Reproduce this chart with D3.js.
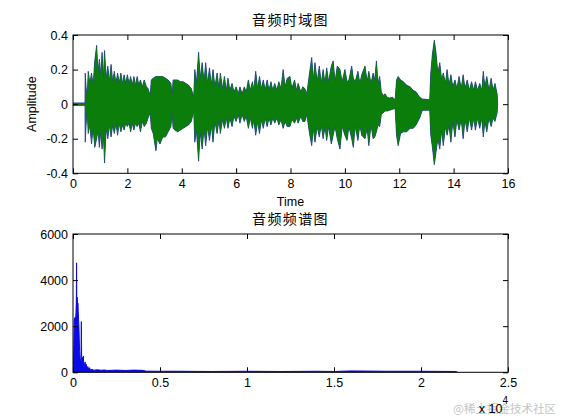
<!DOCTYPE html>
<html><head><meta charset="utf-8">
<script src="https://cdn.jsdelivr.net/npm/d3@7"></script>
<style>body{margin:0;background:#fff}svg{display:block}</style>
</head><body>
<script>
// ---------- data ----------
const timeTicks = [0,2,4,6,8,10,12,14,16];
const ampTicks = [-0.4,-0.2,0,0.2,0.4];
const freqTicks = [0,5000,10000,15000,20000,25000];
const magTicks = [0,2000,4000,6000];
const titleTop = "音频时域图";
const titleBottom = "音频频谱图";

// waveform envelope (seconds, upper, lower)
const envT = [
 0,0.44,0.45,0.48,0.52,0.56,0.62,0.68,0.74,0.80,
 0.87,0.92,0.97,1.02,1.07,1.12,1.16,1.22,1.28,1.34,
 1.40,1.46,1.52,1.58,1.64,1.70,1.76,1.82,1.88,1.94,
 2.00,2.06,2.12,2.18,2.24,2.30,2.36,2.42,2.48,2.55,
 2.62,2.70,2.76,2.84,2.88,2.95,3.05,3.10,3.20,3.30,
 3.40,3.50,3.60,3.65,3.68,3.75,3.85,3.95,4.05,4.15,
 4.25,4.35,4.44,4.48,4.54,4.62,4.68,4.75,4.82,4.88,
 4.95,5.02,5.09,5.15,5.22,5.30,5.37,5.42,5.50,5.57,
 5.64,5.70,5.77,5.85,5.92,6.00,6.08,6.14,6.22,6.30,
 6.37,6.45,6.52,6.60,6.65,6.72,6.79,6.86,6.93,7.00,
 7.07,7.14,7.21,7.28,7.35,7.42,7.50,7.57,7.65,7.73,
 7.80,7.88,7.98,8.05,8.15,8.22,8.28,8.38,8.45,8.53,
 8.60,8.70,8.78,8.84,8.90,8.98,9.06,9.13,9.20,9.27,
 9.33,9.40,9.50,9.57,9.64,9.72,9.82,9.90,10.00,10.08,
 10.15,10.25,10.31,10.38,10.48,10.55,10.62,10.74,10.82,10.88,
 10.96,11.04,11.10,11.16,11.22,11.28,11.34,11.41,11.48,11.55,
 11.65,11.75,11.85,11.90,11.96,12.05,12.15,12.27,12.40,12.51,
 12.62,12.75,12.85,13.12,13.16,13.22,13.29,13.35,13.42,13.49,
 13.56,13.62,13.70,13.76,13.83,13.90,13.97,14.05,14.12,14.20,
 14.28,14.35,14.42,14.50,14.58,14.66,14.74,14.80,14.88,14.96,
 15.04,15.09,15.15,15.22,15.30,15.38,15.45,15.52,15.60,15.62];
const envTop = [
 0.007,0.007,0.18,0.10,0.03,0.19,0.12,0.18,0.11,0.25,
 0.34,0.18,0.26,0.17,0.30,0.15,0.31,0.15,0.22,0.13,
 0.23,0.13,0.19,0.12,0.18,0.12,0.18,0.12,0.17,0.12,
 0.17,0.12,0.16,0.11,0.16,0.11,0.16,0.11,0.14,0.10,
 0.14,0.10,0.09,0.05,0.14,0.15,0.16,0.16,0.16,0.16,
 0.15,0.14,0.12,0.05,0.14,0.14,0.14,0.13,0.13,0.12,
 0.11,0.09,0.04,0.20,0.12,0.30,0.15,0.24,0.13,0.24,
 0.12,0.21,0.11,0.20,0.10,0.18,0.09,0.18,0.09,0.16,
 0.08,0.15,0.08,0.12,0.07,0.10,0.06,0.10,0.06,0.10,
 0.07,0.14,0.08,0.13,0.08,0.19,0.09,0.16,0.09,0.14,
 0.08,0.14,0.08,0.13,0.08,0.12,0.08,0.13,0.09,0.20,
 0.10,0.15,0.16,0.09,0.14,0.08,0.12,0.07,0.10,0.09,
 0.06,0.18,0.27,0.14,0.24,0.13,0.22,0.12,0.20,0.12,
 0.21,0.13,0.22,0.25,0.13,0.22,0.20,0.13,0.20,0.13,
 0.14,0.22,0.15,0.13,0.19,0.12,0.17,0.22,0.13,0.19,
 0.12,0.18,0.14,0.25,0.12,0.16,0.07,0.05,0.06,0.04,
 0.035,0.04,0.025,0.14,0.16,0.14,0.13,0.11,0.10,0.08,
 0.07,0.04,0.03,0.025,0.18,0.29,0.37,0.30,0.18,0.24,
 0.14,0.18,0.12,0.20,0.11,0.17,0.10,0.14,0.09,0.16,
 0.09,0.17,0.09,0.14,0.08,0.13,0.08,0.13,0.08,0.12,
 0.08,0.19,0.10,0.16,0.08,0.15,0.08,0.12,0.06,0];
const envBot = [
 -0.007,-0.007,-0.22,-0.12,-0.03,-0.17,-0.12,-0.23,-0.14,-0.25,
 -0.20,-0.15,-0.25,-0.16,-0.26,-0.18,-0.34,-0.14,-0.20,-0.12,
 -0.19,-0.12,-0.17,-0.11,-0.18,-0.11,-0.16,-0.12,-0.15,-0.11,
 -0.13,-0.11,-0.16,-0.11,-0.15,-0.11,-0.13,-0.11,-0.16,-0.10,
 -0.13,-0.11,-0.08,-0.05,-0.14,-0.17,-0.27,-0.20,-0.23,-0.19,
 -0.19,-0.16,-0.13,-0.05,-0.14,-0.15,-0.16,-0.15,-0.14,-0.13,
 -0.12,-0.10,-0.04,-0.22,-0.15,-0.33,-0.16,-0.26,-0.14,-0.24,
 -0.13,-0.21,-0.12,-0.22,-0.10,-0.17,-0.09,-0.17,-0.09,-0.14,
 -0.08,-0.14,-0.08,-0.13,-0.07,-0.10,-0.06,-0.11,-0.06,-0.10,
 -0.07,-0.14,-0.08,-0.14,-0.09,-0.18,-0.10,-0.17,-0.09,-0.14,
 -0.08,-0.13,-0.08,-0.12,-0.08,-0.11,-0.08,-0.12,-0.09,-0.14,
 -0.10,-0.13,-0.13,-0.09,-0.11,-0.08,-0.11,-0.07,-0.10,-0.10,
 -0.06,-0.17,-0.24,-0.14,-0.22,-0.13,-0.19,-0.12,-0.20,-0.13,
 -0.21,-0.13,-0.23,-0.18,-0.13,-0.20,-0.26,-0.13,-0.18,-0.21,
 -0.13,-0.20,-0.25,-0.13,-0.21,-0.12,-0.18,-0.20,-0.14,-0.24,
 -0.12,-0.20,-0.19,-0.16,-0.12,-0.13,-0.06,-0.05,-0.04,-0.04,
 -0.035,-0.03,-0.025,-0.18,-0.24,-0.17,-0.16,-0.16,-0.14,-0.14,
 -0.12,-0.08,-0.035,-0.035,-0.18,-0.25,-0.35,-0.28,-0.20,-0.26,
 -0.15,-0.24,-0.13,-0.18,-0.12,-0.22,-0.10,-0.19,-0.09,-0.15,
 -0.09,-0.20,-0.09,-0.16,-0.08,-0.15,-0.08,-0.15,-0.08,-0.14,
 -0.08,-0.19,-0.10,-0.16,-0.08,-0.13,-0.08,-0.10,-0.05,0];

// spectrum (Hz, magnitude)
const specFreq = [0,30,50,70,90,110,130,150,170,190,205,220,240,260,280,300,320,340,360,380,
 400,420,440,460,480,500,520,540,560,580,600,620,650,700,720,760,800,850,900,950,
 1000,1100,1200,1400,1600,1800,2000,2500,3000,3500,4000,4200,5000,6000,8000,10000,12000,14000,15000,16000,
 18000,20000,22000,22100];
const specMag = [0,350,1200,2250,2350,2100,2400,2200,2600,3000,4750,2800,3250,2700,3000,2650,2300,2000,1400,900,
 700,500,400,600,2200,500,300,650,250,350,700,200,300,450,150,350,150,250,120,200,
 100,130,90,110,90,100,80,95,80,95,85,50,45,45,35,45,35,45,35,60,
 45,45,35,0];

// ---------- drawing ----------
const W = 561, H = 420;
const FONT = '"Liberation Sans", Arial, Helvetica, sans-serif';
const CJK = '"Noto Sans CJK SC", "Noto Sans", sans-serif';
const svg = d3.select('body').append('svg').attr('width', W).attr('height', H);

const box1 = {l:73, r:508, t:35, b:173.3};
const box2 = {l:73, r:508, t:234, b:372.3};

const xT = d3.scaleLinear().domain([0,16]).range([box1.l, box1.r]);
const yA = d3.scaleLinear().domain([-0.4,0.4]).range([box1.b, box1.t]);
const xF = d3.scaleLinear().domain([0,25000]).range([box2.l, box2.r]);
const yM = d3.scaleLinear().domain([0,6000]).range([box2.b, box2.t]);

const defs = svg.append('defs');
defs.append('clipPath').attr('id','c1').append('rect')
  .attr('x',box1.l).attr('y',box1.t).attr('width',box1.r-box1.l).attr('height',box1.b-box1.t);
defs.append('clipPath').attr('id','c2').append('rect')
  .attr('x',box2.l).attr('y',box2.t).attr('width',box2.r-box2.l).attr('height',box2.b-box2.t);

// waveform
const env = envT.map((t,i)=>({t, top:envTop[i], bot:envBot[i]}));
const area = d3.area().x(d=>xT(d.t)).y0(d=>yA(d.bot)).y1(d=>yA(d.top));
const g1 = svg.append('g').attr('clip-path','url(#c1)');
g1.append('path').datum(env).attr('d',area)
  .attr('fill','#1a2f9c').attr('stroke','#1a2f9c').attr('stroke-width',0.8).attr('stroke-linejoin','miter');
g1.append('path').datum(env).attr('d',area).attr('fill','#0b7d0b');

// spectrum
const spec = specFreq.map((f,i)=>({f, m:specMag[i]}));
const sArea = d3.area().x(d=>xF(d.f)).y0(yM(0)).y1(d=>yM(d.m));
svg.append('g').attr('clip-path','url(#c2)').append('path').datum(spec).attr('d',sArea)
  .attr('fill','#0b0be6').attr('stroke','#0b0be6').attr('stroke-width',1);

// axes
function frame(box, x, y, xt, yt, xf, yf){
  const g = svg.append('g');
  const style = sel => {
    sel.attr('font-size',null).attr('font-family',null);
    sel.select('.domain').remove();
    sel.selectAll('line').attr('stroke','#000');
    sel.selectAll('text').attr('fill','#000').style('font-family',FONT).style('font-size','12.5px');
  };
  g.append('g').attr('transform',`translate(0,${box.b})`)
    .call(d3.axisBottom(x).tickValues(xt).tickFormat(xf).tickSizeInner(-5).tickSizeOuter(0).tickPadding(6)).call(style);
  g.append('g').attr('transform',`translate(0,${box.t})`)
    .call(d3.axisTop(x).tickValues(xt).tickFormat('').tickSizeInner(-5).tickSizeOuter(0)).call(style);
  g.append('g').attr('transform',`translate(${box.l},0)`)
    .call(d3.axisLeft(y).tickValues(yt).tickFormat(yf).tickSizeInner(-5).tickSizeOuter(0).tickPadding(5)).call(style);
  g.append('g').attr('transform',`translate(${box.r},0)`)
    .call(d3.axisRight(y).tickValues(yt).tickFormat('').tickSizeInner(-5).tickSizeOuter(0)).call(style);
  g.append('rect').attr('x',box.l).attr('y',box.t).attr('width',box.r-box.l).attr('height',box.b-box.t)
    .attr('fill','none').attr('stroke','#000').attr('stroke-width',1);
}
frame(box1, xT, yA, timeTicks, ampTicks, d=>String(d), d=>String(d));
frame(box2, xF, yM, freqTicks, magTicks, d=>String(d/10000), d=>String(d));

// titles & labels
svg.append('text').attr('x',(box1.l+box1.r)/2).attr('y',25).attr('text-anchor','middle')
  .style('font-family',CJK).style('font-size','14px').style('letter-spacing','1.4px').text(titleTop);
svg.append('text').attr('x',(box2.l+box2.r)/2).attr('y',224).attr('text-anchor','middle')
  .style('font-family',CJK).style('font-size','14px').style('letter-spacing','1.4px').text(titleBottom);
svg.append('text').attr('x',(box1.l+box1.r)/2).attr('y',205.5).attr('text-anchor','middle')
  .style('font-family',FONT).style('font-size','12.5px').text('Time');
svg.append('text').attr('transform',`translate(35.7,${(box1.t+box1.b)/2}) rotate(-90)`).attr('text-anchor','middle')
  .style('font-family',FONT).style('font-size','12.5px').text('Amplitude');

// watermark (drawn first so the exponent label sits on top, as in the reference)
svg.append('text').attr('x',556).attr('y',413).attr('text-anchor','end')
  .style('font-family',CJK).style('font-size','11.5px').attr('fill','#c4c4c4').text('@稀土掘金技术社区');

// exponent label
const ex = svg.append('text').attr('x',box2.r).attr('y',412.5).attr('text-anchor','end')
  .style('font-family',FONT).style('font-size','12.5px');
ex.append('tspan').text('x 10');
ex.append('tspan').attr('dy',-9).style('font-size','10px').text('4');
</script>
</body></html>
